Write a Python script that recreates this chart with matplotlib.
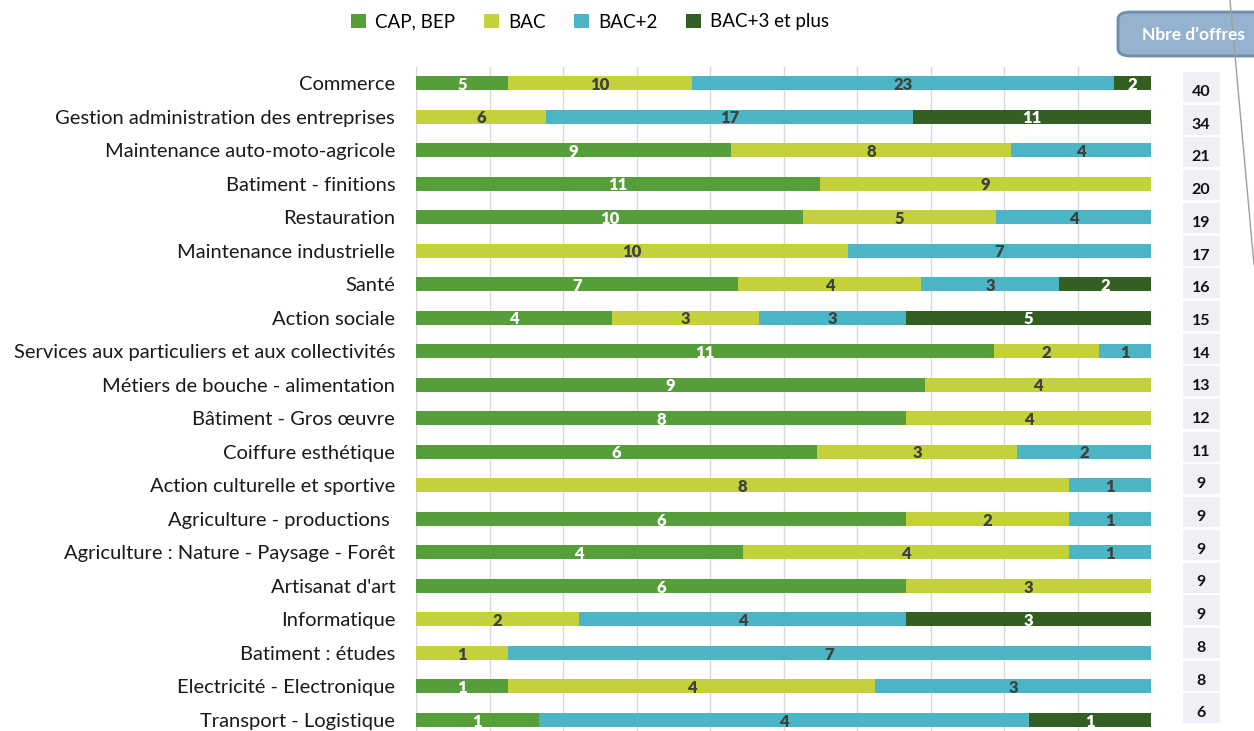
import numpy as np
import matplotlib.pyplot as plt
from matplotlib.patches import FancyBboxPatch, Rectangle
from matplotlib.lines import Line2D
from matplotlib import font_manager

# data (number of offers per level)
categories = ['Commerce', 'Gestion administration des entreprises', 'Maintenance auto-moto-agricole',
              'Batiment - finitions', 'Restauration', 'Maintenance industrielle', 'Santé', 'Action sociale',
              'Services aux particuliers et aux collectivités', 'Métiers de bouche - alimentation',
              'Bâtiment - Gros œuvre', 'Coiffure esthétique', 'Action culturelle et sportive',
              'Agriculture - productions ', 'Agriculture : Nature - Paysage - Forêt', "Artisanat d'art",
              'Informatique', 'Batiment : études', 'Electricité - Electronique', 'Transport - Logistique']
cap_bep = [5, 0, 9, 11, 10, 0, 7, 4, 11, 9, 8, 6, 0, 6, 4, 6, 0, 0, 1, 1]
bac = [10, 6, 8, 9, 5, 10, 4, 3, 2, 4, 4, 3, 8, 2, 4, 3, 2, 1, 4, 0]
bac2 = [23, 17, 4, 0, 4, 7, 3, 3, 1, 0, 0, 2, 1, 1, 1, 0, 4, 7, 3, 4]
bac3 = [2, 11, 0, 0, 0, 0, 2, 5, 0, 0, 0, 0, 0, 0, 0, 0, 3, 0, 0, 1]
series_names = ['CAP, BEP', 'BAC', 'BAC+2', 'BAC+3 et plus']
colors = ['#559E3A', '#C5D13B', '#4BB5C5', '#335F22']
label_colors = ['white', '#404040', '#404040', 'white']

names = [f.name for f in font_manager.fontManager.ttflist]
base_font = 'Lato' if 'Lato' in names else 'DejaVu Sans'
plt.rcParams['font.family'] = [base_font, 'DejaVu Sans']

series = np.array([cap_bep, bac, bac2, bac3], dtype=float)
totals = series.sum(axis=0)
pct = series / totals * 100

fig = plt.figure(figsize=(12.54, 7.31), dpi=100)
ax = fig.add_axes([416 / 1254, 0, 735 / 1254, 1 - 67 / 731])

y = np.arange(len(categories))
left = np.zeros(len(categories))
for k in range(4):
    ax.barh(y, pct[k], left=left, height=0.42, color=colors[k], label=series_names[k], zorder=3)
    for i in range(len(categories)):
        if series[k, i] > 0:
            ax.text(left[i] + pct[k, i] / 2, y[i] + 0.05, f'{int(series[k, i])}', ha='center', va='center',
                    fontsize=12, fontweight='heavy', color=label_colors[k], zorder=4)
    left += pct[k]

ax.set_xlim(0, 100)
ax.set_ylim(len(categories) - 1 + 0.33, -0.48)
ax.set_xticks(np.arange(0, 101, 10))
ax.set_xticklabels([])
ax.tick_params(axis='both', length=0)
ax.grid(axis='x', color='#D9D9D9', linewidth=1, zorder=0)
ax.set_yticks(y)
ax.set_yticklabels(categories, fontsize=14.5, color='#1a1a1a')
ax.tick_params(axis='y', pad=15)
for s in ax.spines.values():
    s.set_visible(False)

leg = fig.legend(loc='center', bbox_to_anchor=(590 / 1254, 1 - 22 / 731), ncol=4, frameon=False,
                 fontsize=13.5, handlelength=0.8, handleheight=0.8, columnspacing=1.5, handletextpad=0.5)

# "Nbre d'offres" column
W, H = 1254, 731
for i, t in enumerate(totals):
    top = 72 + i * 32.7
    fig.add_artist(Rectangle((1183 / W, 1 - (top + 30) / H), 37 / W, 30 / H,
                             transform=fig.transFigure, facecolor='#EEF0F5', edgecolor='none'))
    fig.text(1201 / W, 1 - (top + 20) / H, f'{int(t)}', ha='center', va='center', fontsize=11.5,
             fontweight='bold', color='#111111')

fig.add_artist(FancyBboxPatch((1118 / W, 1 - 56 / H), 150 / W, 44 / H,
                              boxstyle='round,pad=0,rounding_size=0.01', transform=fig.transFigure,
                              facecolor='#95B3D0', edgecolor='#6F8CAA', linewidth=2))
fig.text(1193 / W, 1 - 35 / H, 'Nbre d’offres', ha='center', va='center', fontsize=12.5,
         fontweight='bold', color='white')
fig.add_artist(Line2D([1230 / W, 1254 / W], [1, 1 - 265 / H], transform=fig.transFigure,
                      color='#A0A0A0', linewidth=1))

fig.savefig('out.png', dpi=100)
